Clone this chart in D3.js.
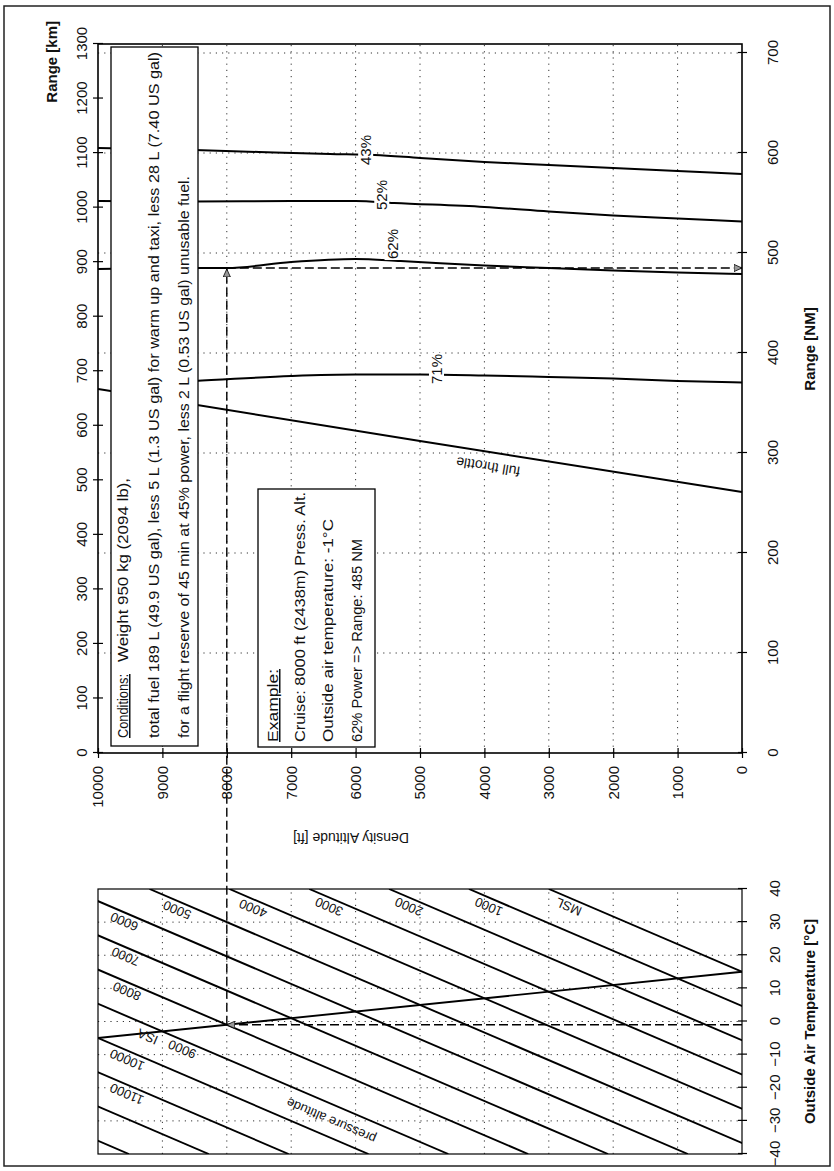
<!DOCTYPE html>
<html>
<head>
<meta charset="utf-8">
<script src="https://cdn.jsdelivr.net/npm/d3@7"></script>
<style>
  body { margin: 0; background: #fff; }
  svg { display: block; }
  text { font-family: "Liberation Sans", Arial, sans-serif; fill: #111; }
  .tick text { font-size: 15px; }
  .title { font-size: 15px; font-weight: bold; }
  .grid { stroke: #333; stroke-width: 1; stroke-dasharray: 1.2 5; }
  .curve { fill: none; stroke: #000; stroke-width: 2; }
  .pline { fill: none; stroke: #000; stroke-width: 1.9; }
  .dash { fill: none; stroke: #000; stroke-width: 1.4; stroke-dasharray: 9 4; }
  .box { fill: #fff; stroke: #000; stroke-width: 1.3; }
  .note { font-size: 15px; }
</style>
</head>
<body>
<svg id="chart" width="834" height="1171"></svg>
<script>
// tick values
const altTicks = [0, 1000, 2000, 3000, 4000, 5000, 6000, 7000, 8000, 9000, 10000];
const nmTicks = [0, 100, 200, 300, 400, 500, 600, 700];
const kmTicks = [0, 100, 200, 300, 400, 500, 600, 700, 800, 900, 1000, 1100, 1200, 1300];
const tempTicks = [-40, -30, -20, -10, 0, 10, 20, 30, 40];

// range curves: [density altitude ft, range NM]
const curve43 = [[10000, 605], [8500, 603], [7500, 601], [6400, 599], [5700, 598], [5000, 595], [4000, 591], [3000, 588], [2000, 585], [1000, 582], [0, 579]];
const curve52 = [[10000, 552], [8500, 551.5], [7000, 552], [6000, 552], [5400, 550], [4000, 546], [3000, 541.5], [2000, 537.5], [1000, 534.5], [0, 531.5]];
const curve62 = [[10000, 484], [8500, 485], [8000, 485], [7000, 491], [6000, 494], [5300, 492], [4000, 487.5], [3000, 485], [2000, 482.5], [1000, 480.5], [0, 479]];
const curve71 = [[9600, 369], [8500, 372], [7000, 377], [6000, 378.5], [5000, 378.5], [4000, 377.5], [3000, 376], [2000, 374.5], [1000, 372], [0, 370.5]];
const curveFull = [[10000, 364], [5000, 312], [0, 261]];

// curve labels: [text, altitude ft, range NM]
const curveLabels = [["43%", 5840, 603], ["52%", 5590, 558], ["62%", 5430, 509], ["71%", 4740, 384]];
const fullThrottleLabel = ["full throttle", 3930, 291];

// pressure altitude lines: density altitude at -40 °C and at +40 °C
const pressAlt = ["MSL", "1000", "2000", "3000", "4000", "5000", "6000", "7000", "8000", "9000", "10000", "11000", "12000", "13000"];
const daAtMinus40 = [-6600, -5360, -4120, -2880, -1640, -400, 840, 2080, 3320, 4560, 5800, 7040, 8280, 9520];
const daAtPlus40 = [3000, 4240, 5480, 6720, 7960, 9200, 10440, 11680, 12920, 14160, 15400, 16640, 17880, 19120];
// temperature (°C) along each line where its label sits (null = no label)
const pressLabelT = [37, 37, 37, 37, 36.5, 36, 32.5, 22, 11.5, -6, -9.2, -19.5, null, null];
const isaLine = [[15, 0], [-5, 10000]];
const isaLabel = ["ISA", -4.6, 9230];
const pressTitle = ["pressure altitude", -30, 6380];

// worked example
const exAlt = 8000, exTemp = -1, exRange = 485;

const svg = d3.select("#chart");
svg.append("rect").attr("x", 4).attr("y", 6).attr("width", 826).attr("height", 1160)
  .attr("fill", "none").attr("stroke", "#222").attr("stroke-width", 1.5);

// the page is laid out landscape and turned a quarter turn
const g = svg.append("g").attr("transform", "translate(0,1171) rotate(-90)");

const xNM = d3.scaleLinear().domain([0, 700]).range([418, 1118]);
const xKm = d3.scaleLinear().domain([0, 1300]).range([418, 1127]);
const yDA = d3.scaleLinear().domain([0, 10000]).range([742, 98]);
const xT = d3.scaleLinear().domain([-40, 40]).range([17, 282]);

const pRight = xKm(1300), pTop = yDA(10000), pBottom = yDA(0), pLeft = xNM(0);

const defs = svg.append("defs");
defs.append("clipPath").attr("id", "tclip").append("rect")
  .attr("x", xT(-40)).attr("y", pTop).attr("width", xT(40) - xT(-40)).attr("height", pBottom - pTop);
defs.append("marker").attr("id", "arr").attr("viewBox", "0 0 10 10")
  .attr("refX", 10).attr("refY", 5).attr("markerWidth", 8).attr("markerHeight", 8)
  .attr("markerUnits", "userSpaceOnUse").attr("orient", "auto")
  .append("path").attr("d", "M0,0.5L10,5L0,9.5Z").attr("fill", "#999").attr("stroke", "#000").attr("stroke-width", 1);

// ---------- range chart ----------
const grid = g.append("g");
grid.selectAll(".gv").data(nmTicks.filter(d => d > 0)).enter().append("line")
  .attr("class", "grid").attr("x1", d => xNM(d)).attr("x2", d => xNM(d)).attr("y1", pTop).attr("y2", pBottom);
grid.selectAll(".gh").data(altTicks.filter(d => d > 0 && d < 10000)).enter().append("line")
  .attr("class", "grid").attr("x1", pLeft).attr("x2", pRight).attr("y1", d => yDA(d)).attr("y2", d => yDA(d));

const line = d3.line().x(d => xNM(d[1])).y(d => yDA(d[0])).curve(d3.curveMonotoneY);
[curve43, curve52, curve62, curve71, curveFull].forEach(c => {
  g.append("path").attr("class", "curve").attr("d", line(c));
});

function gapLabel(txt, x, y) {
  const t = g.append("text").attr("x", x).attr("y", y).attr("dy", "0.35em")
    .attr("text-anchor", "middle").style("font-size", "15px").text(txt);
  const b = t.node().getBBox();
  g.insert("rect", () => t.node()).attr("x", b.x - 1).attr("y", b.y + 1)
    .attr("width", b.width + 2).attr("height", b.height - 2).attr("fill", "#fff");
}
curveLabels.forEach(d => gapLabel(d[0], xNM(d[2]), yDA(d[1])));

const ftAngle = Math.atan2(yDA(curveFull[0][0]) - yDA(curveFull[2][0]),
  xNM(curveFull[0][1]) - xNM(curveFull[2][1])) * 180 / Math.PI;
g.append("text").attr("text-anchor", "middle").style("font-size", "14px")
  .attr("transform", `translate(${xNM(fullThrottleLabel[2])},${yDA(fullThrottleLabel[1])}) rotate(${ftAngle})`)
  .text(fullThrottleLabel[0]);

// example path
g.append("path").attr("class", "dash").attr("marker-end", "url(#arr)")
  .attr("d", `M${xT(exTemp)},${yDA(exAlt)}H${xNM(exRange) - 1}`);
g.append("path").attr("class", "dash").attr("marker-end", "url(#arr)")
  .attr("d", `M${xNM(exRange)},${yDA(exAlt)}V${pBottom}`);

// boxes
const cond = g.append("g");
cond.append("rect").attr("class", "box").attr("x", 425).attr("y", 111).attr("width", 699).attr("height", 87);
const c1 = cond.append("text").attr("class", "note").attr("x", 433).attr("y", 128);
c1.append("tspan").attr("text-decoration", "underline").attr("textLength", 64).attr("lengthAdjust", "spacingAndGlyphs").text("Conditions:");
c1.append("tspan").attr("x", 509).attr("textLength", 184).attr("lengthAdjust", "spacingAndGlyphs").text("Weight 950 kg (2094 lb),");
cond.append("text").attr("class", "note").attr("x", 433).attr("y", 159).attr("textLength", 686).attr("lengthAdjust", "spacingAndGlyphs")
  .text("total fuel 189 L (49.9 US gal), less 5 L (1.3 US gal) for warm up and taxi, less 28 L (7.40 US gal)");
cond.append("text").attr("class", "note").attr("x", 433).attr("y", 189).attr("textLength", 562).attr("lengthAdjust", "spacingAndGlyphs")
  .text("for a flight reserve of 45 min at 45% power, less 2 L (0.53 US gal) unusable fuel.");

const ex = g.append("g");
ex.append("rect").attr("class", "box").attr("x", 424).attr("y", 258).attr("width", 258).attr("height", 117);
const exLines = [["Example:", 278, 73], ["Cruise: 8000 ft (2438m) Press. Alt.", 305, 250], ["Outside air temperature: -1°C", 333, 223], ["62% Power => Range: 485 NM", 362, 203]];
exLines.forEach((d, i) => {
  ex.append("text").attr("class", "note").attr("x", 429).attr("y", d[1]).attr("textLength", d[2])
    .attr("lengthAdjust", "spacingAndGlyphs").attr("text-decoration", i === 0 ? "underline" : null).text(d[0]);
});

// border and axes
g.append("rect").attr("x", pLeft).attr("y", pTop).attr("width", pRight - pLeft).attr("height", pBottom - pTop)
  .attr("fill", "none").attr("stroke", "#000").attr("stroke-width", 1.6);

function crossTicks(sel, a, b, vertical) {
  sel.select(".domain").remove();
  sel.selectAll(".tick line").attr("stroke", "#000").attr("stroke-width", 1.2);
  if (vertical) sel.selectAll(".tick line").attr("x1", a).attr("x2", b);
  else sel.selectAll(".tick line").attr("y1", a).attr("y2", b);
}
const fmt = d3.format("d");
const kmAxis = g.append("g").attr("transform", `translate(0,${pTop})`)
  .call(d3.axisTop(xKm).tickValues(kmTicks).tickFormat(fmt).tickSize(5).tickPadding(6));
crossTicks(kmAxis, -5, 5, false);
const nmAxis = g.append("g").attr("transform", `translate(0,${pBottom})`)
  .call(d3.axisBottom(xNM).tickValues(nmTicks).tickFormat(fmt).tickSize(5).tickPadding(20));
crossTicks(nmAxis, -4, 5, false);
const altAxis = g.append("g").attr("transform", `translate(${pLeft},0)`)
  .call(d3.axisLeft(yDA).tickValues(altTicks).tickFormat(fmt).tickSize(5).tickPadding(8));
crossTicks(altAxis, -5, 5, true);

g.append("text").attr("class", "title").attr("text-anchor", "end").attr("x", 1150).attr("y", 57).text("Range [km]");
g.append("text").attr("class", "title").attr("text-anchor", "middle").attr("x", 822).attr("y", 815).text("Range [NM]");
g.append("text").attr("text-anchor", "middle").style("font-size", "14px")
  .attr("transform", "translate(338,351) rotate(-90)").text("Density Altitude [ft]");

// ---------- temperature chart ----------
const tg = g.append("g");
tg.selectAll(".tv").data(tempTicks.slice(1, -1)).enter().append("line").attr("class", "grid")
  .attr("x1", d => xT(d)).attr("x2", d => xT(d)).attr("y1", pTop).attr("y2", pBottom);
tg.selectAll(".th").data(altTicks.filter(d => d > 0 && d < 10000)).enter().append("line").attr("class", "grid")
  .attr("x1", xT(-40)).attr("x2", xT(40)).attr("y1", d => yDA(d)).attr("y2", d => yDA(d));

const lines = tg.append("g").attr("clip-path", "url(#tclip)");
pressAlt.forEach((p, i) => {
  lines.append("line").attr("class", "pline")
    .attr("x1", xT(-40)).attr("y1", yDA(daAtMinus40[i])).attr("x2", xT(40)).attr("y2", yDA(daAtPlus40[i]));
});
lines.append("line").attr("class", "pline")
  .attr("x1", xT(isaLine[0][0])).attr("y1", yDA(isaLine[0][1])).attr("x2", xT(isaLine[1][0])).attr("y2", yDA(isaLine[1][1]));

const pAngle = Math.atan2(yDA(daAtPlus40[0]) - yDA(daAtMinus40[0]), xT(40) - xT(-40)) * 180 / Math.PI;
function lineLabel(txt, t, da, dy) {
  tg.append("text").attr("text-anchor", "middle").attr("dy", dy).style("font-size", "13px")
    .attr("transform", `translate(${xT(t)},${yDA(da)}) rotate(${pAngle})`).text(txt);
}
pressAlt.forEach((p, i) => {
  const t = pressLabelT[i];
  if (t === null) return;
  // label sits just above its line
  const da = daAtMinus40[i] + (t + 40) / 80 * (daAtPlus40[i] - daAtMinus40[i]);
  lineLabel(p, t, da, -4);
});
lineLabel(isaLabel[0], isaLabel[1], isaLabel[2], "0.35em");
lineLabel(pressTitle[0], pressTitle[1], pressTitle[2], "0.35em");

tg.append("rect").attr("x", xT(-40)).attr("y", pTop).attr("width", xT(40) - xT(-40)).attr("height", pBottom - pTop)
  .attr("fill", "none").attr("stroke", "#000").attr("stroke-width", 1.2);

g.append("path").attr("class", "dash").attr("marker-end", "url(#arr)")
  .attr("d", `M${xT(exTemp)},${pBottom}V${yDA(exAlt)}`);

const tAxis = g.append("g").attr("transform", `translate(0,${pBottom})`)
  .call(d3.axisBottom(xT).tickValues(tempTicks).tickFormat(fmt).tickSize(5).tickPadding(22));
crossTicks(tAxis, -4, 5, false);
g.append("text").attr("class", "title").attr("text-anchor", "middle").attr("x", xT(0)).attr("y", 815)
  .text("Outside Air Temperature [°C]");
</script>
</body>
</html>
